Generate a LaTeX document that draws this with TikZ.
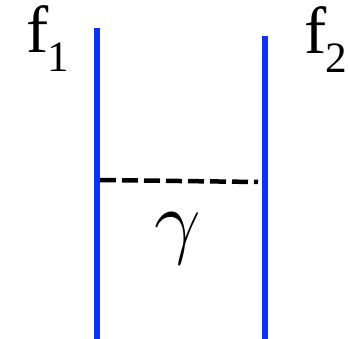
\documentclass[tikz,border=0pt]{standalone}
\usepackage{fontspec}
\setmainfont{Liberation Serif}
\usepackage{tikz}
\usetikzlibrary{positioning}
\definecolor{LineBlue}{RGB}{10,50,255}
\definecolor{PhotonBlack}{RGB}{0,0,0}
\tikzset{
  fermion/.style={LineBlue,line width=1.95pt},
  photon/.style={PhotonBlack,line width=1.35pt,dash pattern=on 4.8pt off 1.8pt},
  flabel/.style={inner sep=0pt,anchor=base west,font=\fontsize{20}{22}\selectfont}
}
\newcommand{\flab}[1]{f\kern-0.5pt\raisebox{-5.7pt}{\fontsize{13}{15}\selectfont #1}}

\begin{document}
\begin{tikzpicture}[x=0.3pt,y=-0.3pt]
      \useasboundingbox (0,0) rectangle (349,339);
      % fermion lines
      \coordinate (a1) at (97,28);
      \coordinate (b1) at (97,339);
      \coordinate (a2) at (265,36);
      \coordinate (b2) at (265,339);
      \draw[fermion] (a1)--(b1);
      \draw[fermion] (a2)--(b2);
      % photon exchange
      \coordinate (v1) at (100,180);
      \coordinate (v2) at (258,182);
      \draw[photon] (v1)--(v2);
      \node (gam) at (178,239) {\fontsize{25}{27}\selectfont$\gamma$};
      % labels
      \node[flabel] (f1) at (26,53) {\flab{1}};
      \node[flabel] (f2) at (304,54) {\flab{2}};
    \end{tikzpicture}
\end{document}
